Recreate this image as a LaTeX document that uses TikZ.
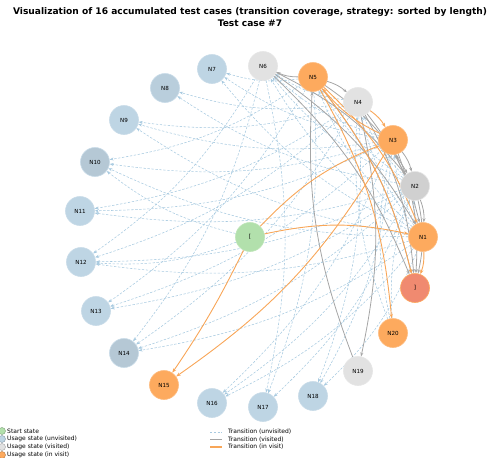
\documentclass[tikz,border=0pt]{standalone}
\usepackage{fontspec}
\setmainfont{DejaVu Sans}
\usetikzlibrary{arrows.meta}
\pgfdeclarelayer{edges}
\pgfsetlayers{edges,main}
\definecolor{cunv}{RGB}{190,213,228}
\definecolor{cvis}{RGB}{226,226,226}
\definecolor{cinv}{RGB}{253,170,94}
\definecolor{cend}{RGB}{240,138,112}
\definecolor{cstart}{RGB}{178,224,172}
\definecolor{eunv}{RGB}{168,202,224}
\definecolor{evis}{RGB}{165,165,165}
\definecolor{einv}{RGB}{248,166,88}
\tikzset{
  st/.style={circle, minimum size=29pt, inner sep=0pt, line width=0.6pt, font=\fontsize{5.6}{6.5}\selectfont},
  unv/.style={st, fill=cunv, draw=cunv!85!white},
  vis/.style={st, fill=cvis, draw=cvis!85!white},
  inv/.style={st, fill=cinv, draw=cinv!80!white},
  endst/.style={st, fill=cend, draw=cinv},
  startst/.style={st, fill=cstart, draw=cstart!85!white},
  eu/.style={draw=eunv, line width=0.55pt, dash pattern=on 2.4pt off 1.6pt, -{Stealth[length=4pt,width=3pt]}, bend left=12},
  ev/.style={draw=evis, line width=0.8pt, -{Stealth[length=4pt,width=3pt]}, bend left=12},
  ei/.style={draw=einv, line width=0.9pt, -{Stealth[length=4.5pt,width=3.4pt]}, bend left=12},
  legtxt/.style={anchor=west, inner sep=0pt, font=\fontsize{6}{7}\selectfont},
  legdot/.style={circle, minimum size=7pt, inner sep=0pt, line width=0.4pt}
}
\begin{document}
\begin{tikzpicture}[x=1pt,y=-1pt]
\useasboundingbox (0,0) rectangle (491,458);
% title
\node[font=\bfseries\fontsize{9.1}{11}\selectfont] (t1) at (250,12) {Visualization of 16 accumulated test cases (transition coverage, strategy: sorted by length)};
\node[font=\bfseries\fontsize{9.1}{11}\selectfont] (t2) at (250,23.5) {Test case \#7};
% nodes
\node[vis] (N6) at (263,66) {N6};
\node[inv] (N5) at (313,77) {N5};
\node[vis] (N4) at (358,102) {N4};
\node[inv] (N3) at (393,140) {N3};
\node[vis, fill=cvis!92!black] (N2) at (415,186) {N2};
\node[inv] (N1) at (423,237) {N1};
\node[endst] (E) at (415,288) {]};
\node[inv] (N20) at (393,333) {N20};
\node[vis] (N19) at (358,371) {N19};
\node[unv] (N18) at (313,396) {N18};
\node[unv] (N17) at (263,407) {N17};
\node[unv] (N16) at (212,403) {N16};
\node[inv] (N15) at (164,385) {N15};
\node[unv, fill=cunv!85!gray] (N14) at (124,353) {N14};
\node[unv] (N13) at (96,311) {N13};
\node[unv] (N12) at (81,262) {N12};
\node[unv] (N11) at (80,211) {N11};
\node[unv, fill=cunv!85!gray] (N10) at (95,162) {N10};
\node[unv] (N9) at (124,120) {N9};
\node[unv, fill=cunv!92!gray] (N8) at (165,88) {N8};
\node[unv] (N7) at (212,69) {N7};
\node[startst] (S) at (250,237) {[};
\begin{pgfonlayer}{edges}
% unvisited transitions
\foreach \a/\b in {N1/N7,N5/N7,N3/N7,N2/N8,N4/N8,N3/N9,N1/N9,N4/N9,N1/N10,N3/N10,N5/N10,N4/N11,N2/N11,N3/N11,N2/N12,N1/N12,N6/N12,N4/N12,N3/N13,N2/N13,N5/N13,N1/N14,N2/N14,N6/N14,N4/N14,N1/N16,N2/N16,N3/N16,N5/N17,N6/N17,N2/N17,N3/N18,N4/N18,N1/N18,N1/N6,N2/N6,N3/N6,N4/N6,N2/N5,N1/N5,N1/N4,N2/N4,N1/N3,N20/N2,N1/N2,N20/N3,N20/N4,S/N10,S/N12}
  \draw[eu] (\a) to (\b);
% visited transitions
\foreach \a/\b in {N5/N6,N19/N5,N4/N19,N6/E,N5/E,N4/E,N3/E,N2/E,N6/N1,N4/N1,N3/N2,N2/N3,N2/N1,N5/N4,N6/N2,N5/N2}
  \draw[ev] (\a) to (\b);
% transitions in visit
\foreach \a/\b in {S/N1,S/N3,N3/N15,N5/N20,N5/E,N5/N1,N4/N3,N1/E,N3/N5}
  \draw[ei] (\a) to (\b);
\draw[ei, bend left=4] (S) to (N15);
\end{pgfonlayer}
% legend
\node[legdot, fill=cstart, draw=cstart!70!black] (l1) at (2,431) {};
\node[legtxt] (lt1) at (7,431) {Start state};
\node[legdot, fill=cunv, draw=cunv!70!black] (l2) at (2,439) {};
\node[legtxt] (lt2) at (7,439) {Usage state (unvisited)};
\node[legdot, fill=cvis, draw=cvis!70!black] (l3) at (2,447) {};
\node[legtxt] (lt3) at (7,447) {Usage state (visited)};
\node[legdot, fill=cinv, draw=cinv!70!black] (l4) at (2,455) {};
\node[legtxt] (lt4) at (7,455) {Usage state (in visit)};
\coordinate (m1a) at (210,432); \coordinate (m1b) at (222,432);
\coordinate (m2a) at (210,439.5); \coordinate (m2b) at (222,439.5);
\coordinate (m3a) at (210,447); \coordinate (m3b) at (222,447);
\draw[draw=eunv, line width=0.6pt, dash pattern=on 2.2pt off 1.6pt] (m1a) -- (m1b);
\draw[draw=evis, line width=0.9pt] (m2a) -- (m2b);
\draw[draw=einv, line width=1.1pt] (m3a) -- (m3b);
\node[legtxt] (lt5) at (228,432) {Transition (unvisited)};
\node[legtxt] (lt6) at (228,439.5) {Transition (visited)};
\node[legtxt] (lt7) at (228,447) {Transition (in visit)};
\end{tikzpicture}
\end{document}
